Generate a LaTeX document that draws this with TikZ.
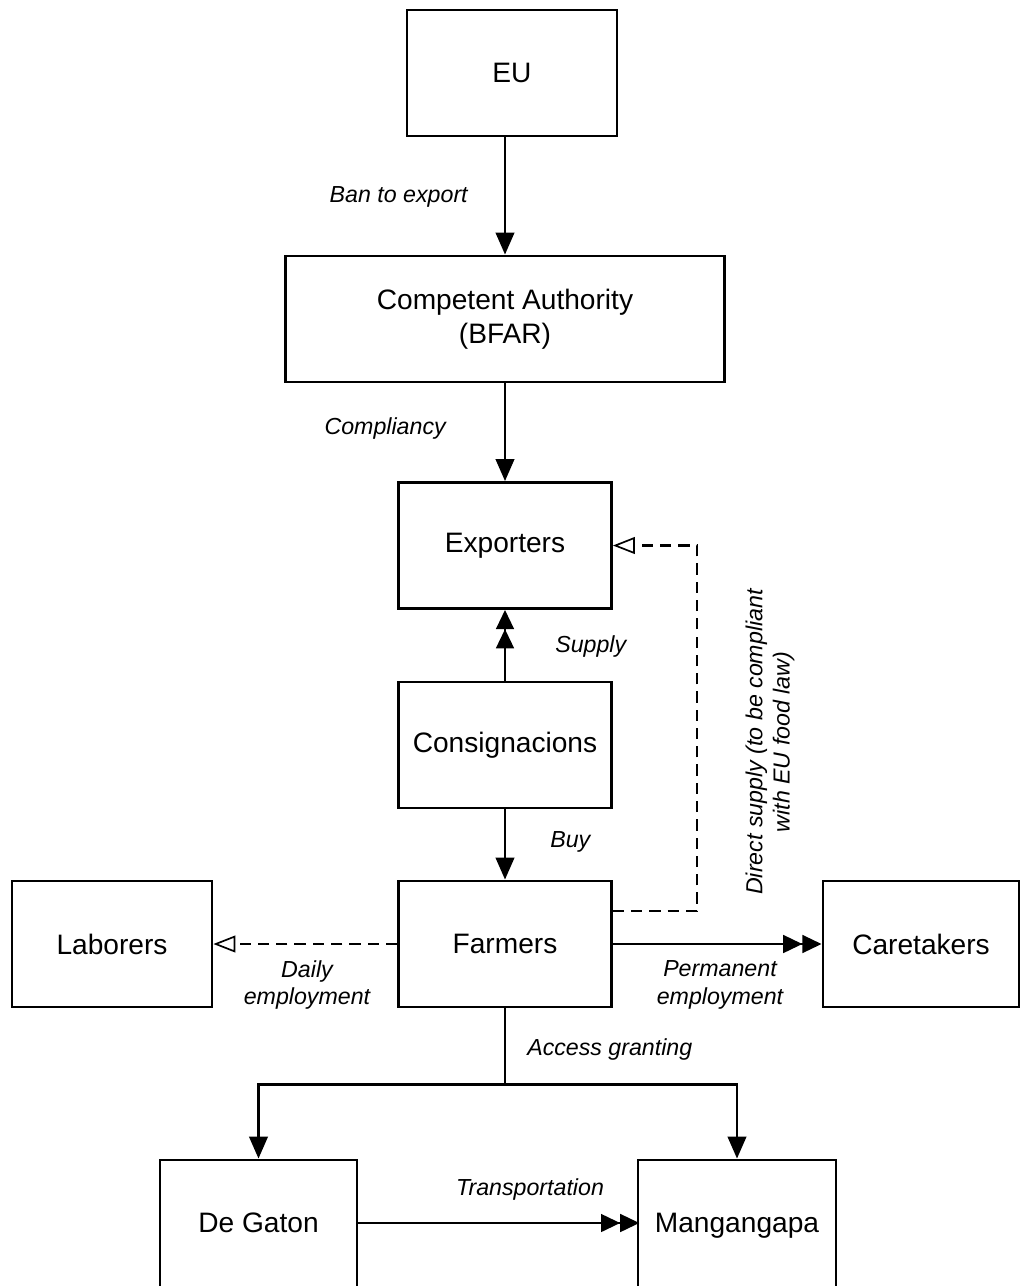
\documentclass[tikz,border=0pt]{standalone}
\usepackage{fontspec}
\setmainfont{Liberation Sans}
\usetikzlibrary{arrows.meta}

\begin{document}
\begin{tikzpicture}[x=0.25mm,y=-0.25mm,
	lbl/.style={font=\fontsize{16.5}{19.5}\selectfont\itshape, align=center, inner sep=0pt}]
	\useasboundingbox (0,0) rectangle (1020,1286);
	\clip (0,0) rectangle (1020,1286);
	\begin{scope}[every node/.style = {rectangle, draw, line width=2pt,
		minimum width=53.25mm, minimum height=31.5mm, align=center,
		font=\fontsize{20}{24}\selectfont}]
		\node[minimum width=52.5mm] (EU) at (512,73) {EU};
		\node[minimum width=109.75mm] (CA) at (505,319) {Competent Authority\\(BFAR)};
		\node (Exp) at (505,545.5) {Exporters};
		\node (Con) at (505,745) {Consignacions};
		\node (Farm) at (505,944) {Farmers};
		\node[minimum width=50mm] (Lab) at (112,944) {Laborers};
		\node[minimum width=49mm] (Care) at (921,944) {Caretakers};
		\node[minimum width=49.25mm, draw=none, outer sep=0pt, text depth=0pt] (DG) at (258.5,1223) {De Gaton};
		\node[minimum width=49.5mm, draw=none, outer sep=0pt, text depth=0pt] (Man) at (737,1223) {Mangangapa};
	\end{scope}
	% bottom boxes run off the page
	\draw[line width=2pt] (DG.south west) -- (DG.north west) -- (DG.north east) -- (DG.south east);
	\draw[line width=2pt] (Man.south west) -- (Man.north west) -- (Man.north east) -- (Man.south east);
	\begin{scope}[>={Triangle[length=5.5mm,width=4.6mm]},
			dbl/.style={-{Triangle[length=4.8mm,width=4.4mm]Triangle[length=4.8mm,width=4.4mm]}},
			opentip/.style={-{Triangle[open,length=5.5mm,width=4.2mm,line width=1.2pt]}, dash pattern=on 8pt off 5pt, line width=1.8pt},
			every edge/.style={draw=black, line width=2pt}]
		\path [->] (CA.north |- EU.south) edge (CA.north);
		\path [->] (CA) edge (Exp);
		\path [dbl] (Con) edge (Exp);
		\path [->] (Con) edge (Farm);
		\path [dbl] (Farm) edge (Care);
		\path [dbl] (DG) edge ([xshift=1pt]Man.west);
		\path [opentip] (Farm) edge (Lab);
		\draw [opentip] ([yshift=8.25mm]Farm.east) -- ++(84,0) |- (Exp.east);
		\draw [line width=2pt] (Farm.south) -- ++(0,76) coordinate (split);
		\draw [->, line width=2pt] (split) -| ([yshift=1pt]DG.north);
		\draw [->, line width=2pt] (split) -| ([yshift=1pt]Man.north);
	\end{scope}
	% labels
	\node[lbl, anchor=east] (ban) at (468,197) {Ban to export};
	\node[lbl, anchor=east] (comp) at (446,428) {Compliancy};
	\node[lbl, anchor=west] (sup) at (555,646) {Supply};
	\node[lbl, anchor=west] (buy) at (550,842) {Buy};
	\node[lbl] (daily) at (307,985) {Daily\\employment};
	\node[lbl] (perm) at (720,985) {Permanent\\employment};
	\node[lbl, anchor=west] (acc) at (527,1049) {Access granting};
	\node[lbl] (trans) at (530,1189) {Transportation};
	\node[lbl, rotate=90] (direct) at (770,742) {Direct supply (to be compliant\\with EU food law)};
\end{tikzpicture}
\end{document}
